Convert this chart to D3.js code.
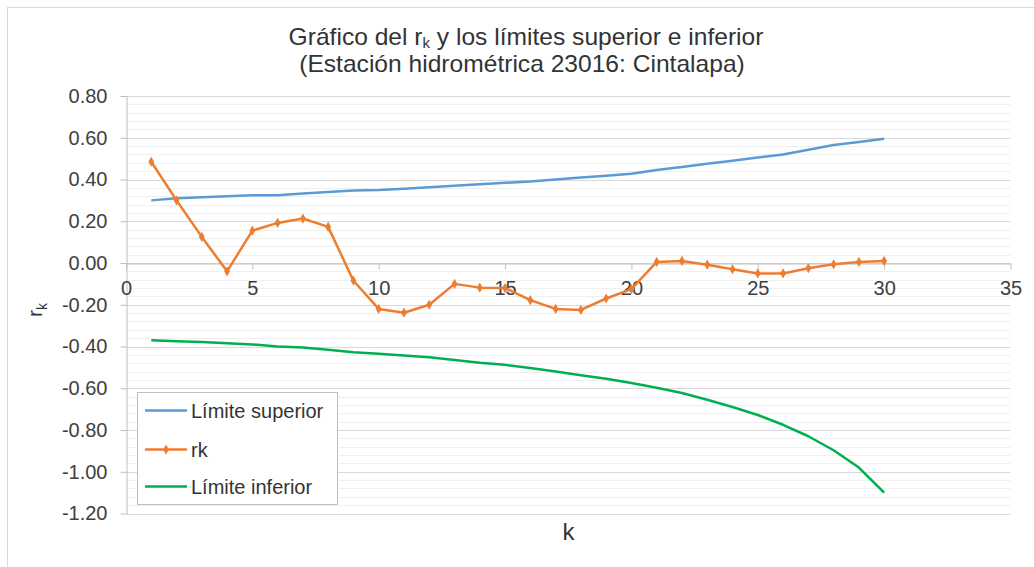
<!DOCTYPE html>
<html>
<head>
<meta charset="utf-8">
<script src="https://cdn.jsdelivr.net/npm/d3@7"></script>
<style>
  body { margin: 0; background: #fff; }
  svg { font-family: "Liberation Sans", Arial, sans-serif; }
</style>
</head>
<body>
<svg id="chart"></svg>
<script>
const W = 1034
const H = 567

// datos
const kValues = d3.range(1, 31)
const limSuperior = [0.30, 0.31, 0.315, 0.32, 0.325, 0.325, 0.333, 0.34, 0.347, 0.35,
  0.356, 0.363, 0.37, 0.377, 0.384, 0.39, 0.40, 0.41, 0.418, 0.428,
  0.445, 0.46, 0.475, 0.49, 0.505, 0.52, 0.543, 0.565, 0.58, 0.595]
const rk = [0.485, 0.30, 0.125, -0.04, 0.155, 0.192, 0.213, 0.173, -0.085, -0.22,
  -0.238, -0.20, -0.10, -0.118, -0.12, -0.178, -0.22, -0.225, -0.17, -0.125,
  0.005, 0.01, -0.008, -0.03, -0.05, -0.05, -0.025, -0.006, 0.005, 0.01]
const limInferior = [-0.37, -0.375, -0.378, -0.385, -0.39, -0.40, -0.405, -0.415, -0.427, -0.435,
  -0.443, -0.452, -0.465, -0.478, -0.488, -0.503, -0.52, -0.538, -0.555, -0.575,
  -0.598, -0.623, -0.655, -0.69, -0.728, -0.775, -0.83, -0.897, -0.98, -1.10]
const xTicks = [0, 5, 10, 15, 20, 25, 30, 35]

const series = [
  { name: 'Límite superior', values: limSuperior, color: '#5b9bd5', marker: false },
  { name: 'rk', values: rk, color: '#ed7d31', marker: true },
  { name: 'Límite inferior', values: limInferior, color: '#00b050', marker: false }
]

const svg = d3.select('#chart').attr('width', W).attr('height', H)

// marco del grafico
svg.append('rect')
  .attr('x', 7.5).attr('y', 7.5)
  .attr('width', W + 10).attr('height', H + 10)
  .attr('fill', '#fff')
  .attr('stroke', '#d9d9d9')

const x = d3.scaleLinear().domain([0, 35]).range([126, 1010.5])
const y = d3.scaleLinear().domain([-1.2, 0.8]).range([513.5, 96])

const majors = y.ticks(10)
const minors = d3.range(-30, 21).map(i => i * 0.04).filter(v => Math.abs(Math.round(v * 5) - v * 5) > 1e-6)

// lineas de division
svg.append('g').selectAll('line').data(minors).join('line')
  .attr('x1', x(0)).attr('x2', x(35))
  .attr('y1', d => Math.round(y(d)) + 0.5).attr('y2', d => Math.round(y(d)) + 0.5)
  .attr('stroke', '#efefef')

svg.append('g').selectAll('line').data(majors).join('line')
  .attr('x1', x(0)).attr('x2', x(35))
  .attr('y1', d => Math.round(y(d)) + 0.5).attr('y2', d => Math.round(y(d)) + 0.5)
  .attr('stroke', '#d9d9d9')

// ejes
const yAxis = d3.axisLeft(y).tickValues(majors).tickSize(6).tickSizeOuter(0).tickPadding(13)
  .tickFormat(d => d.toFixed(2))
svg.append('g').attr('class', 'axis').attr('transform', 'translate(126.5,0)').call(yAxis)

const xAxis = d3.axisBottom(x).tickValues(xTicks).tickSize(6).tickSizeOuter(0).tickPadding(11)
svg.append('g').attr('class', 'axis').attr('transform', `translate(0,${Math.round(y(0)) + 0.5})`).call(xAxis)

svg.selectAll('.axis path, .axis line').attr('stroke', '#bfbfbf')
svg.selectAll('.axis text').attr('font-size', 20).attr('fill', '#404040')
  .attr('font-family', '"Liberation Sans", Arial, sans-serif')

// series
const line = d3.line().x((d, i) => x(kValues[i])).y(d => y(d))

series.forEach(s => {
  svg.append('path')
    .datum(s.values)
    .attr('d', line)
    .attr('fill', 'none')
    .attr('stroke', s.color)
    .attr('stroke-width', 2.5)
    .attr('stroke-linejoin', 'round')
  if (s.marker) {
    svg.append('g').selectAll('path').data(s.values).join('path')
      .attr('transform', (d, i) => `translate(${x(kValues[i])},${y(d)})`)
      .attr('d', d3.symbol(d3.symbolDiamond, 30))
      .attr('fill', s.color)
  }
})

// titulo (dos lineas, algo estirado a lo ancho como en el original)
const title = svg.append('text')
  .attr('transform', 'translate(526,45) scale(1.07,1)')
  .attr('text-anchor', 'middle')
  .attr('font-size', 23)
  .attr('fill', '#333')
title.append('tspan').text('Gráfico del r')
  .append('tspan').attr('font-size', 14).attr('dy', 3).text('k')
title.append('tspan').attr('dy', -3).text(' y los límites superior e inferior')
svg.append('text')
  .attr('transform', 'translate(522,72) scale(1.07,1)')
  .attr('text-anchor', 'middle')
  .attr('font-size', 23)
  .attr('fill', '#333')
  .text('(Estación hidrométrica 23016: Cintalapa)')

// titulos de ejes
svg.append('text')
  .attr('x', 568.5).attr('y', 540)
  .attr('text-anchor', 'middle')
  .attr('font-size', 24)
  .attr('fill', '#333')
  .text('k')

const yt = svg.append('text')
  .attr('transform', 'translate(42,310) rotate(-90)')
  .attr('text-anchor', 'middle')
  .attr('font-size', 21)
  .attr('fill', '#333')
yt.append('tspan').text('r')
yt.append('tspan').attr('font-size', 14).attr('dy', 5).text('k')

// leyenda
const legend = svg.append('g')
legend.append('rect')
  .attr('x', 137.5).attr('y', 392.5)
  .attr('width', 200).attr('height', 112)
  .attr('fill', '#fff')
  .attr('stroke', '#bfbfbf')

const ly = [410.5, 449.5, 486.5]
series.forEach((s, i) => {
  legend.append('line')
    .attr('x1', 145).attr('x2', 187)
    .attr('y1', ly[i]).attr('y2', ly[i])
    .attr('stroke', s.color).attr('stroke-width', 2.5)
  if (s.marker) {
    legend.append('path')
      .attr('transform', `translate(166,${ly[i]})`)
      .attr('d', d3.symbol(d3.symbolDiamond, 30))
      .attr('fill', s.color)
  }
  legend.append('text')
    .attr('x', 191).attr('y', ly[i])
    .attr('dy', '0.36em')
    .attr('font-size', 20)
    .attr('fill', '#333')
    .text(s.name)
})
</script>
</body>
</html>
